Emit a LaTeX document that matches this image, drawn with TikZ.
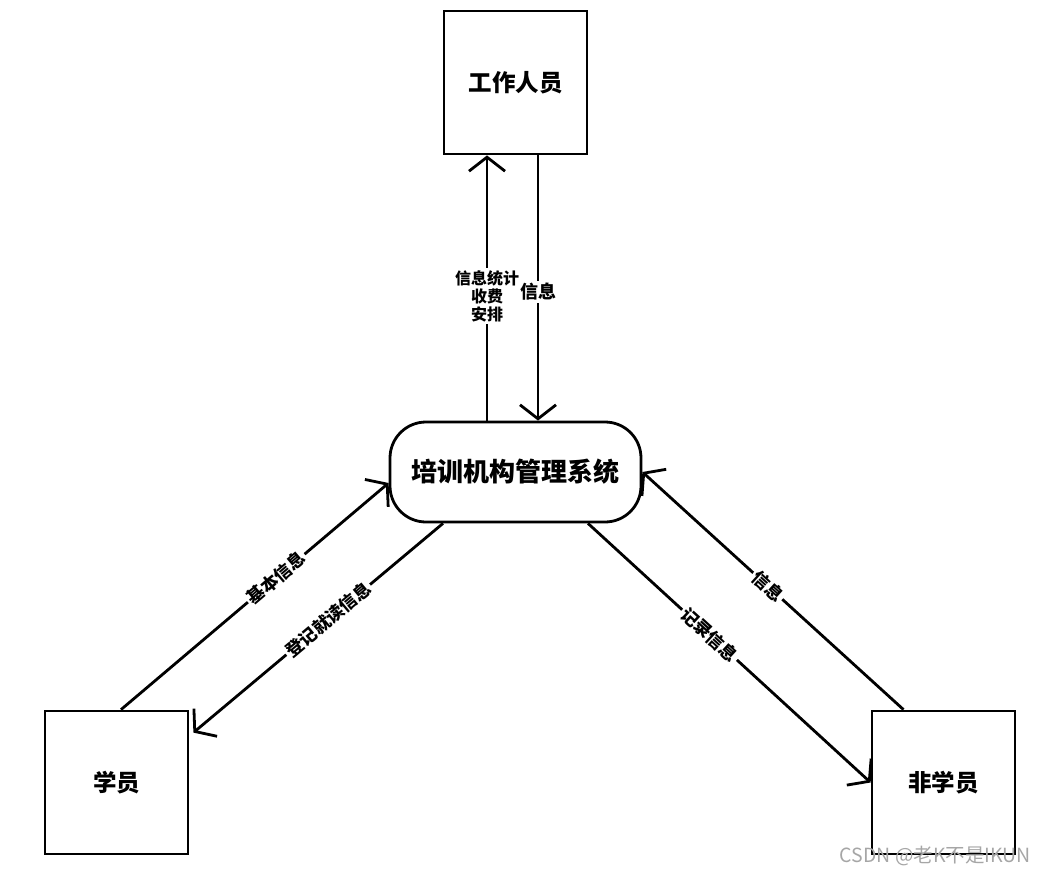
\documentclass[tikz,border=0pt]{standalone}
\usepackage{fontspec}
\newfontfamily\cjk{Noto Sans CJK SC}
\usetikzlibrary{arrows.meta}
\begin{document}
\begin{tikzpicture}[x=1pt,y=-1pt,
  every node/.style={font=\cjk\bfseries},
  entity/.style={draw,line width=2.8pt,minimum width=143pt,minimum height=143pt,inner sep=0pt,font=\cjk\bfseries\fontsize{23.5}{27}\selectfont},
  proc/.style={draw,line width=2.8pt,rounded corners=36pt,minimum width=251pt,minimum height=100pt,inner sep=0pt,font=\cjk\bfseries\fontsize{26}{30}\selectfont},
  flow/.style={line width=2.8pt,-{Straight Barb[length=14pt,width=36pt]}},
  lbl/.style={fill=white,inner sep=2pt,font=\cjk\bfseries\fontsize{16}{19}\selectfont,align=center},
  dlbl/.style={fill=white,inner sep=2pt,sloped,font=\cjk\bfseries\fontsize{17.5}{20}\selectfont}
]
\useasboundingbox (0,0) rectangle (1045,875);
\node[entity] (staff) at (515.5,82.5) {工作人员};
\node[proc] (sys) at (515.5,472) {培训机构管理系统};
\node[entity] (stu) at (116.5,782.5) {学员};
\node[entity] (non) at (943.5,782.5) {非学员};

\draw[flow] ([xshift=-28.5pt]sys.north) -- ([xshift=-28.5pt]staff.south)
  node[lbl,pos=0.47] {信息统计\\[-1pt]收费\\[-1pt]安排};
\draw[flow] ([xshift=22.5pt]staff.south) -- ([xshift=22.5pt]sys.north)
  node[lbl,pos=0.515,font=\cjk\bfseries\fontsize{18}{21}\selectfont] {信息};

\draw[flow] ([xshift=4.5pt]stu.north) -- ([yshift=-11pt]sys.west)
  node[dlbl,pos=0.58] {基本信息};
\draw[flow] ([xshift=-72.5pt]sys.south) -- ([xshift=4pt,yshift=-23pt]stu.north east)
  node[dlbl,pos=0.46] {登记就读信息};

\draw[flow] ([xshift=-40pt]non.north) -- (sys.east)
  node[dlbl,pos=0.52] {信息};
\draw[flow] ([xshift=72.5pt]sys.south) -- (non.west)
  node[dlbl,pos=0.43] {记录信息};

\node[font=\cjk\fontsize{19.5}{22}\selectfont,text=black!35,anchor=base east,inner sep=0pt] (wm) at (1031,862) {CSDN @老K不是IKUN};
\end{tikzpicture}
\end{document}
